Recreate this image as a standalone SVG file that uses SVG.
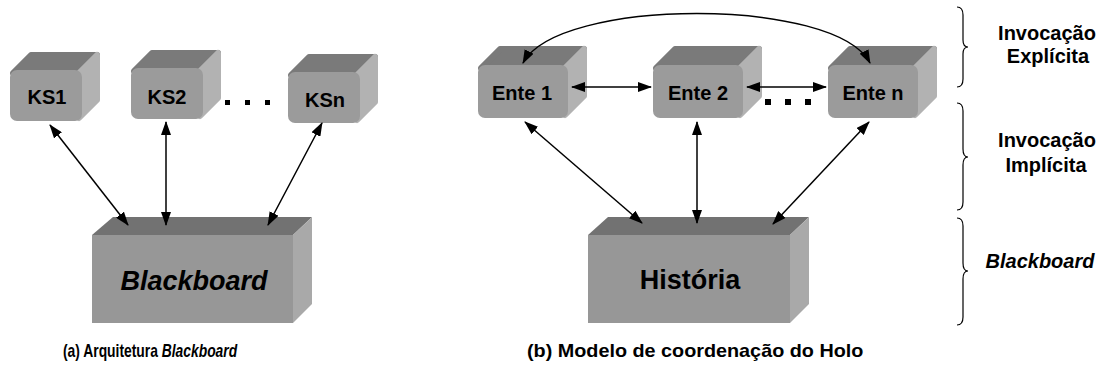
<svg xmlns="http://www.w3.org/2000/svg" width="1113" height="373" viewBox="0 0 1113 373">
<style>
.bg{fill:#ffffff}
.top{fill:#7a7a7a;stroke:#7a7a7a;stroke-width:6;stroke-linejoin:round}
.side{fill:#b2b2b2;stroke:#b2b2b2;stroke-width:6;stroke-linejoin:round}
.front{fill:#9b9b9b}
.btop{fill:#727272}
.bside{fill:#a9a9a9}
.bfront{fill:#979797}
.lbl{font-family:"Liberation Sans",Arial,sans-serif;font-weight:bold;font-size:20px;fill:#000;text-anchor:middle}
.big{font-family:"Liberation Sans",Arial,sans-serif;font-weight:bold;font-size:27px;fill:#000;text-anchor:middle}
.it{font-style:italic}
.cap{font-family:"Liberation Sans",Arial,sans-serif;font-weight:bold;font-size:18px;fill:#000}
.con{stroke:#000;stroke-width:1.5;fill:none;marker-start:url(#ah);marker-end:url(#ah)}
.brace{stroke:#000;stroke-width:1.2;fill:none}
.dot{fill:#000}
</style>
<defs>
<marker id="ah" markerUnits="userSpaceOnUse" markerWidth="14" markerHeight="10" refX="13" refY="5" orient="auto-start-reverse" viewBox="0 0 14 10">
<path d="M0,0 L14,5 L0,10 z" fill="#000"/>
</marker>
</defs>
<rect class="bg" x="0" y="0" width="1113" height="373"/>

<!-- Left: KS boxes -->
<g id="ks1">
<polygon class="top" points="13,73 31,55 97,55 79,73"/>
<polygon class="side" points="79,73 97,55 97,100 79,118"/>
<rect class="front" x="10" y="70" width="72" height="51" rx="7"/>
<text class="lbl" x="47" y="104">KS1</text>
</g>
<g id="ks2">
<polygon class="top" points="134,71 152,53 218,53 200,71"/>
<polygon class="side" points="200,71 218,53 218,98 200,116"/>
<rect class="front" x="131" y="68" width="72" height="51" rx="7"/>
<text class="lbl" x="167" y="104">KS2</text>
</g>
<g id="ksn">
<polygon class="top" points="291,75 309,57 375,57 357,75"/>
<polygon class="side" points="357,75 375,57 375,102 357,120"/>
<rect class="front" x="288" y="72" width="72" height="51" rx="7"/>
<text class="lbl" x="325" y="107">KSn</text>
</g>
<g id="ks-dots">
<rect class="dot" x="225" y="100" width="5" height="5"/>
<rect class="dot" x="245" y="100" width="5" height="5"/>
<rect class="dot" x="265" y="100" width="5" height="5"/>
</g>
<g id="blackboard">
<polygon class="btop" points="92,235 113,217 312,217 293,235"/>
<polygon class="bside" points="293,235 312,217 312,304 293,323"/>
<rect class="bfront" x="92" y="235" width="201" height="88"/>
<text class="big it" x="194" y="290">Blackboard</text>
</g>

<!-- Right: Entes -->
<g id="ente1">
<polygon class="top" points="481,68 500,49 584,49 565,68"/>
<polygon class="side" points="565,68 584,49 584,96 565,115"/>
<rect class="front" x="478" y="65" width="90" height="53" rx="7"/>
<text class="lbl" x="522" y="100">Ente 1</text>
</g>
<g id="ente2">
<polygon class="top" points="656,68 675,49 759,49 740,68"/>
<polygon class="side" points="740,68 759,49 759,96 740,115"/>
<rect class="front" x="653" y="65" width="90" height="53" rx="7"/>
<text class="lbl" x="698" y="100">Ente 2</text>
</g>
<g id="enten">
<polygon class="top" points="831,68 850,49 934,49 915,68"/>
<polygon class="side" points="915,68 934,49 934,96 915,115"/>
<rect class="front" x="828" y="65" width="90" height="53" rx="7"/>
<text class="lbl" x="873" y="100">Ente n</text>
</g>
<g id="ente-dots">
<rect class="dot" x="765" y="99" width="6" height="6"/>
<rect class="dot" x="785" y="99" width="6" height="6"/>
<rect class="dot" x="805" y="99" width="6" height="6"/>
</g>
<g id="historia">
<polygon class="btop" points="588,235 608,217 809,217 790,235"/>
<polygon class="bside" points="790,235 809,217 809,304 790,323"/>
<rect class="bfront" x="588" y="235" width="202" height="88"/>
<text class="big" x="690" y="289">História</text>
</g>

<!-- Connectors -->
<g id="connectors">
<line class="con" x1="50" y1="125" x2="128" y2="225"/>
<line class="con" x1="166" y1="122" x2="166" y2="225"/>
<line class="con" x1="322" y1="123" x2="268" y2="225"/>
<line class="con" x1="525" y1="122" x2="642" y2="223"/>
<line class="con" x1="697" y1="122" x2="697" y2="223"/>
<line class="con" x1="869" y1="122" x2="773" y2="224"/>
<line class="con" x1="572" y1="87" x2="651" y2="87"/>
<line class="con" x1="747" y1="87" x2="826" y2="87"/>
<path class="con" d="M523,63 C558,-3 836,-3 870,63"/>
</g>

<!-- Braces and level labels -->
<g id="levels">
<path class="brace" d="M957,7 Q963,7 963,15 L963,40 Q963,47 968,47 Q963,47 963,54 L963,79 Q963,87 957,87"/>
<path class="brace" d="M957,103 Q963,103 963,111 L963,149 Q963,157 968,157 Q963,157 963,165 L963,202 Q963,210 957,210"/>
<path class="brace" d="M957,218 Q963,218 963,226 L963,263 Q963,271 968,271 Q963,271 963,279 L963,317 Q963,325 957,325"/>
<text class="lbl" x="1047" y="40">Invocação</text>
<text class="lbl" x="1048" y="63">Explícita</text>
<text class="lbl" x="1047" y="147">Invocação</text>
<text class="lbl" x="1046" y="172">Implícita</text>
<text class="lbl it" x="1040" y="268">Blackboard</text>
</g>

<!-- Captions -->
<g id="captions">
<text class="cap" transform="translate(63,357) scale(0.77,1)" x="0" y="0">(a) Arquitetura <tspan font-style="italic">Blackboard</tspan></text>
<text class="cap" transform="translate(527,357) scale(1.1,1)" x="0" y="0">(b) Modelo de coordenação do Holo</text>
</g>
</svg>
